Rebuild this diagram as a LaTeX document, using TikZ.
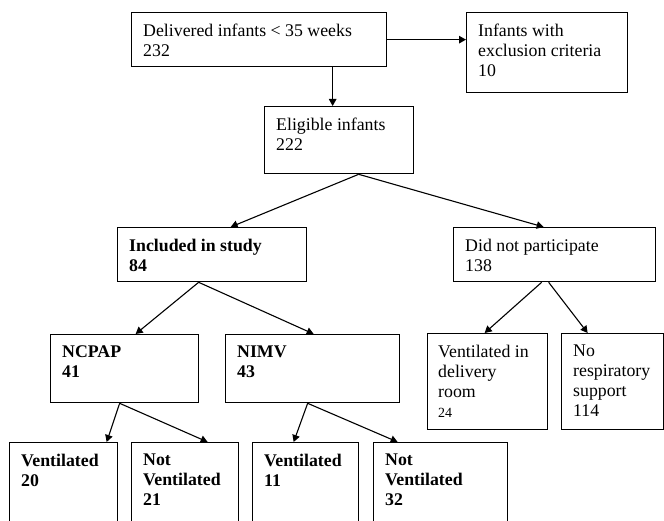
\documentclass[tikz,border=0pt]{standalone}
\usepackage{fontspec}
\setmainfont{Liberation Serif}
\usepackage{tikz}
\usetikzlibrary{arrows.meta}
\newcommand{\flowfont}{\fontsize{17.8}{20}\selectfont}
\tikzset{
  box/.style={draw,line width=1.3pt,anchor=north west,inner sep=0pt},
  txt/.style={anchor=north west,inner sep=0pt,align=left,xshift=12pt,yshift=-11.5pt,font=\flowfont},
  btxt/.style={txt,font=\flowfont\bfseries},
  arr/.style={-{Triangle[length=7pt,width=7.5pt]},line width=1.1pt},
}

\begin{document}
\begin{tikzpicture}[x=1pt,y=-1pt]
\useasboundingbox (0,0) rectangle (664,521);
\clip (0,0) rectangle (664,521);
\node[box,minimum width=255,minimum height=54] (deliv) at (131,12) {};
\node[box,minimum width=161,minimum height=80] (excl) at (466,12) {};
\node[box,minimum width=149,minimum height=67] (elig) at (264,106) {};
\node[box,minimum width=189,minimum height=54] (incl) at (117,227) {};
\node[box,minimum width=202,minimum height=54] (nopart) at (453,227) {};
\node[box,minimum width=148,minimum height=68] (ncpap) at (50,334) {};
\node[box,minimum width=174,minimum height=68] (nimv) at (225,334) {};
\node[box,minimum width=120,minimum height=96] (vdel) at (427,333) {};
\node[box,minimum width=102,minimum height=96] (nors) at (561,333) {};
\node[box,minimum width=108,minimum height=100] (vent20) at (9,442) {};
\node[box,minimum width=107,minimum height=100] (nvent21) at (131,442) {};
\node[box,minimum width=106,minimum height=100] (vent11) at (252,442) {};
\node[box,minimum width=134,minimum height=100] (nvent32) at (373,442) {};
% texts
\node[txt] (deliv-t) at (deliv.north west) {Delivered infants < 35 weeks\\232};
\node[txt] (excl-t) at (excl.north west) {Infants with\\exclusion criteria\\10};
\node[txt] (elig-t) at (elig.north west) {Eligible infants\\222};
\node[btxt] (incl-t) at (incl.north west) {Included in study\\84};
\node[txt] (nopart-t) at (nopart.north west) {Did not participate\\138};
\node[btxt] (ncpap-t) at (ncpap.north west) {NCPAP\\41};
\node[btxt] (nimv-t) at (nimv.north west) {NIMV\\43};
\node[txt,xshift=-1pt] (vdel-t) at (vdel.north west) {Ventilated in\\delivery\\room\\{\fontsize{14}{16}\selectfont 24}};
\node[txt] (nors-t) at (nors.north west) {No\\respiratory\\support\\114};
\node[btxt] (vent20-t) at (vent20.north west) {Ventilated\\20};
\node[btxt] (nvent21-t) at (nvent21.north west) {Not\\Ventilated\\21};
\node[btxt] (vent11-t) at (vent11.north west) {Ventilated\\11};
\node[btxt] (nvent32-t) at (nvent32.north west) {Not\\Ventilated\\32};
% arrows
\draw[arr] (deliv.east) -- (deliv.east -| excl.west);
\draw[arr] ([xshift=-6.5pt]elig.north |- deliv.south) -- ([xshift=-6.5pt]elig.north);
\draw[arr] ([xshift=19.5pt]elig.south) -- ([xshift=18.5pt]incl.north);
\draw[arr] ([xshift=19.5pt]elig.south) -- ([xshift=-11pt]nopart.north);
\draw[arr] ([xshift=-13.5pt]incl.south) -- ([xshift=11pt]ncpap.north);
\draw[arr] ([xshift=-13.5pt]incl.south) -- ([xshift=1pt]nimv.north);
\draw[arr] ([xshift=-13pt]nopart.south) -- ([xshift=-3pt]vdel.north);
\draw[arr] ([xshift=-6pt]nopart.south) -- ([xshift=-25pt]nors.north);
\draw[arr] ([xshift=-5pt]ncpap.south) -- ([xshift=43pt]vent20.north);
\draw[arr] ([xshift=-5pt]ncpap.south) -- ([xshift=22.5pt]nvent21.north);
\draw[arr] ([xshift=-5pt]nimv.south) -- ([xshift=-12pt]vent11.north);
\draw[arr] ([xshift=-5pt]nimv.south) -- ([xshift=-43pt]nvent32.north);
\end{tikzpicture}
\end{document}
